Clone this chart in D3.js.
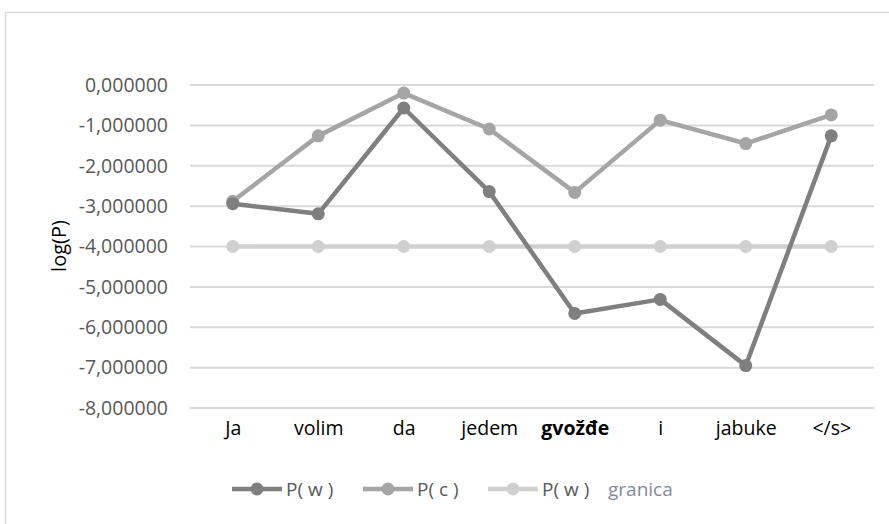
<!DOCTYPE html>
<html>
<head>
<meta charset="utf-8">
<script src="https://cdn.jsdelivr.net/npm/d3@7"></script>
<style>
  html, body { margin: 0; padding: 0; background: #fff; }
  svg { display: block; }
  text { font-family: "Open Sans", "Lato", sans-serif; }
</style>
</head>
<body>
<svg id="chart" width="889" height="524"></svg>
<script>
// Words of the sentence (x categories)
const words = ["Ja", "volim", "da", "jedem", "gvožđe", "i", "jabuke", "</s>"];
const boldWord = "gvožđe";

// log-probabilities per word
const pW = [-2.94, -3.19, -0.57, -2.64, -5.66, -5.31, -6.95, -1.26];
const pC = [-2.88, -1.26, -0.20, -1.09, -2.66, -0.87, -1.45, -0.74];
const granica = [-4, -4, -4, -4, -4, -4, -4, -4];

// y-axis ticks
const yTicks = [0, -1, -2, -3, -4, -5, -6, -7, -8];

// legend texts
const legendNames = ["P( w )", "P( c )", "P( w )"];
const legendNotes = ["", "", "granica"];

const svg = d3.select("#chart");

// chart frame (only top and left edges fall inside the view)
svg.append("path")
  .attr("d", "M5.5,524 L5.5,12.5 L889,12.5")
  .attr("fill", "none")
  .attr("stroke", "#d9d9d9")
  .attr("stroke-width", 1.5);

const x = d3.scalePoint().domain(words).range([190, 874]).padding(0.5);
const y = d3.scaleLinear().domain([-8, 0]).range([408, 85]);

const locale = d3.formatLocale({ decimal: ",", thousands: ".", grouping: [3], currency: ["", ""], minus: "-" });
const fmt = locale.format(".6f");

// horizontal gridlines
svg.append("g").selectAll("line").data(yTicks).join("line")
  .attr("x1", 190).attr("x2", 874)
  .attr("y1", d => y(d)).attr("y2", d => y(d))
  .attr("stroke", "#d9d9d9").attr("stroke-width", 2);

// y tick labels
const yAxis = d3.axisLeft(y).tickValues(yTicks).tickFormat(fmt).tickSize(0).tickPadding(0);
const gy = svg.append("g").attr("transform", "translate(168,0)").call(yAxis);
gy.select(".domain").remove();
gy.selectAll("text")
  .attr("fill", "#595959")
  .style("font-family", "'Open Sans', sans-serif")
  .style("font-size", "19.5px");

// y axis title
svg.append("text")
  .attr("transform", "translate(58,246) rotate(-90)")
  .attr("text-anchor", "middle")
  .attr("dominant-baseline", "central")
  .attr("fill", "#000")
  .style("font-size", "20px")
  .text("log(P)");

// x category labels
const xAxis = d3.axisBottom(x).tickSize(0).tickPadding(0);
const gx = svg.append("g").attr("transform", "translate(0,435)").call(xAxis);
gx.select(".domain").remove();
gx.selectAll("text")
  .attr("fill", "#000")
  .attr("dy", "0")
  .style("font-family", "'Open Sans', sans-serif")
  .style("font-size", "19.5px")
  .style("font-weight", d => d === boldWord ? "bold" : "normal");

// series, drawn back to front
const series = [
  { values: granica, color: "#d0d0d0" },
  { values: pC, color: "#a5a5a5" },
  { values: pW, color: "#7f7f7f" }
];

const line = d3.line().x((d, i) => x(words[i])).y(d => y(d));

series.forEach(s => {
  const g = svg.append("g");
  g.append("path")
    .attr("d", line(s.values))
    .attr("fill", "none")
    .attr("stroke", s.color)
    .attr("stroke-width", 4.5)
    .attr("stroke-linejoin", "round")
    .attr("stroke-linecap", "round");
  g.selectAll("circle").data(s.values).join("circle")
    .attr("cx", (d, i) => x(words[i]))
    .attr("cy", d => y(d))
    .attr("r", 6.5)
    .attr("fill", s.color);
});

// legend
const legendColors = ["#7f7f7f", "#a5a5a5", "#d0d0d0"];
const legendX = [232, 363, 488];
const ly = 489;
const lg = svg.append("g");
legendNames.forEach((name, i) => {
  const x0 = legendX[i];
  lg.append("line")
    .attr("x1", x0).attr("x2", x0 + 50)
    .attr("y1", ly).attr("y2", ly)
    .attr("stroke", legendColors[i]).attr("stroke-width", 4.5);
  lg.append("circle")
    .attr("cx", x0 + 25).attr("cy", ly).attr("r", 6.5)
    .attr("fill", legendColors[i]);
  lg.append("text")
    .attr("x", x0 + 54).attr("y", ly)
    .attr("dominant-baseline", "central")
    .attr("fill", "#595959")
    .style("font-size", "19px")
    .text(name);
  if (legendNotes[i]) {
    lg.append("text")
      .attr("x", x0 + 120).attr("y", ly)
      .attr("dominant-baseline", "central")
      .attr("fill", "#858a99")
      .style("font-size", "19px")
      .text(legendNotes[i]);
  }
});
</script>
</body>
</html>
